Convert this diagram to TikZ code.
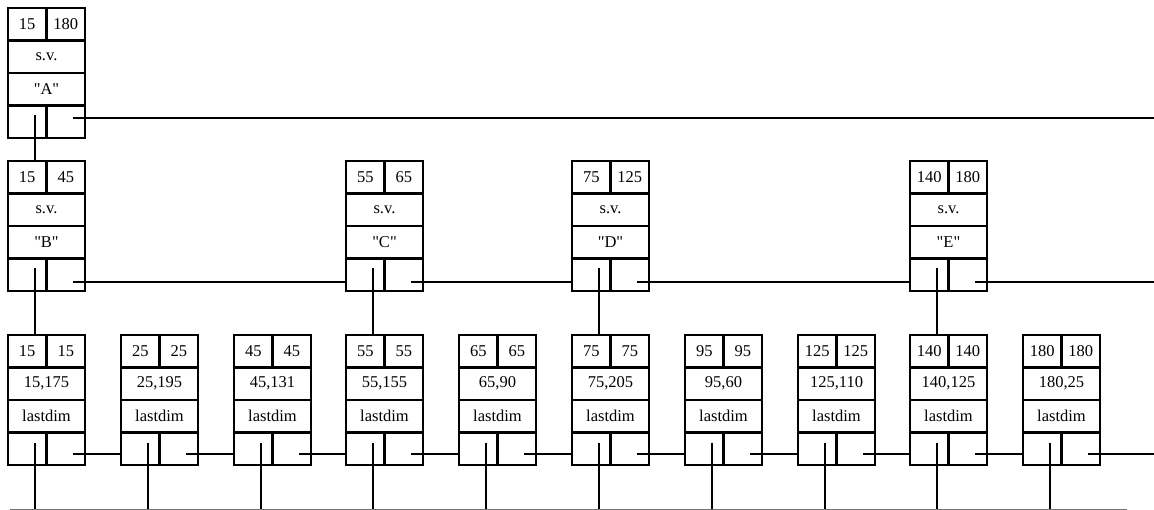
\documentclass[tikz,border=0pt]{standalone}
\usepackage{fontspec}
\setmainfont{Liberation Serif}[Ligatures=TeXOff]
\tikzset{
  cell/.style={draw, line width=2.4pt, inner sep=0pt, outer sep=0pt,
    minimum height=32.5pt, font=\fontsize{16.5}{16.5}\selectfont},
  half/.style={cell, minimum width=38.5pt},
  full/.style={cell, minimum width=77pt},
  ptr/.style={line width=2.2pt},
  base/.style={line width=1pt, draw=black!55}
}
% name, x, y, t1, t2, mid, label, yshift of right pointer
\newcommand\rec[8]{%
  \node[half, anchor=north west] (#1-a) at (#2,#3) {#4};
  \node[half, anchor=north west] (#1-b) at (#1-a.north east) {#5};
  \node[full, anchor=north west] (#1-c) at (#1-a.south west) {#6};
  \node[full, anchor=north west] (#1-d) at (#1-c.south west) {#7};
  \node[half, anchor=north west] (#1-e) at (#1-d.south west) {};
  \node[half, anchor=north west] (#1-f) at (#1-e.north east) {};
  \coordinate (#1-down) at ([xshift=7.75pt, yshift=-10pt]#1-e.north);
  \coordinate (#1-right) at ([xshift=7pt, yshift=#8]#1-f.center);
}
\begin{document}
\begin{tikzpicture}[x=1pt, y=-1pt]
\useasboundingbox (0,0) rectangle (1154,510);
\coordinate (rightedge) at (1154,0);
\coordinate (baseL) at (10,509);
\coordinate (baseR) at (1127,509);

\rec{A}{8}{8}{15}{180}{s.v.}{"A"}{4pt}

\rec{B}{8}{161}{15}{45}{s.v.}{"B"}{-7pt}
\rec{C}{346}{161}{55}{65}{s.v.}{"C"}{-7pt}
\rec{D}{572}{161}{75}{125}{s.v.}{"D"}{-7pt}
\rec{E}{910}{161}{140}{180}{s.v.}{"E"}{-7pt}

\rec{L1}{8}{335}{15}{15}{15,175}{lastdim}{-5pt}
\rec{L2}{121}{335}{25}{25}{25,195}{lastdim}{-5pt}
\rec{L3}{234}{335}{45}{45}{45,131}{lastdim}{-5pt}
\rec{L4}{346}{335}{55}{55}{55,155}{lastdim}{-5pt}
\rec{L5}{459}{335}{65}{65}{65,90}{lastdim}{-5pt}
\rec{L6}{572}{335}{75}{75}{75,205}{lastdim}{-5pt}
\rec{L7}{685}{335}{95}{95}{95,60}{lastdim}{-5pt}
\rec{L8}{798}{335}{125}{125}{125,110}{lastdim}{-5pt}
\rec{L9}{910}{335}{140}{140}{140,125}{lastdim}{-5pt}
\rec{L10}{1023}{335}{180}{180}{180,25}{lastdim}{-5pt}

% base line
\draw[base] (baseL) -- (baseR);

% top level
\draw[ptr] (A-down) -- (A-down |- B-a.north);
\draw[ptr] (A-right) -- (A-right -| rightedge);

% middle level
\draw[ptr] (B-right) -- (B-right -| C-e.west);
\draw[ptr] (C-right) -- (C-right -| D-e.west);
\draw[ptr] (D-right) -- (D-right -| E-e.west);
\draw[ptr] (E-right) -- (E-right -| rightedge);
\draw[ptr] (B-down) -- (B-down |- L1-a.north);
\draw[ptr] (C-down) -- (C-down |- L4-a.north);
\draw[ptr] (D-down) -- (D-down |- L6-a.north);
\draw[ptr] (E-down) -- (E-down |- L9-a.north);

% leaf level
\foreach \i/\j in {1/2,2/3,3/4,4/5,5/6,6/7,7/8,8/9,9/10}{
  \draw[ptr] (L\i-right) -- (L\i-right -| L\j-e.west);
}
\draw[ptr] (L10-right) -- (L10-right -| rightedge);
\foreach \i in {1,...,10}{
  \draw[ptr] (L\i-down) -- (L\i-down |- baseL);
}
\end{tikzpicture}
\end{document}
